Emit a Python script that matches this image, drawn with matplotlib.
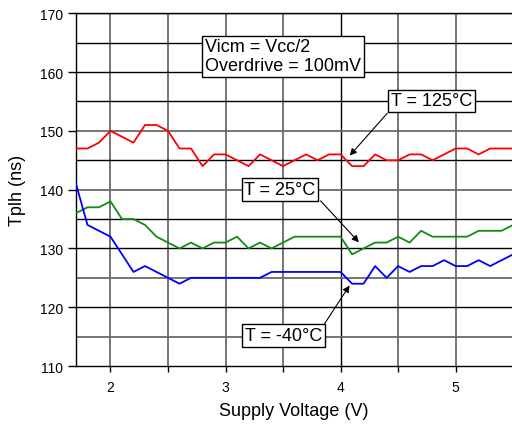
import numpy as np
import matplotlib
matplotlib.use('Agg')
import matplotlib.pyplot as plt

plt.rcParams['font.family'] = ['Liberation Sans', 'DejaVu Sans']
plt.rcParams['font.size'] = 10

# supply voltage (V)
vcc = [1.7, 1.8, 1.9, 2.0, 2.1, 2.2, 2.3, 2.4, 2.5, 2.6, 2.7, 2.8, 2.9,
       3.0, 3.1, 3.2, 3.3, 3.4, 3.5, 3.6, 3.7, 3.8, 3.9, 4.0, 4.1, 4.2,
       4.3, 4.4, 4.5, 4.6, 4.7, 4.8, 4.9, 5.0, 5.1, 5.2, 5.3, 5.4, 5.5]

# Tplh (ns)
t_125 = [147, 147, 148, 150, 149, 148, 151, 151, 150, 147, 147, 144, 146,
         146, 145, 144, 146, 145, 144, 145, 146, 145, 146, 146, 144, 144,
         146, 145, 145, 146, 146, 145, 146, 147, 147, 146, 147, 147, 147]
t_25 = [136, 137, 137, 138, 135, 135, 134, 132, 131, 130, 131, 130, 131,
        131, 132, 130, 131, 130, 131, 132, 132, 132, 132, 132, 129, 130,
        131, 131, 132, 131, 133, 132, 132, 132, 132, 133, 133, 133, 134]
t_m40 = [141, 134, 133, 132, 129, 126, 127, 126, 125, 124, 125, 125, 125,
         125, 125, 125, 125, 126, 126, 126, 126, 126, 126, 126, 124, 124,
         127, 125, 127, 126, 127, 127, 128, 127, 127, 128, 127, 128, 129]

fig = plt.figure(figsize=(5.12, 4.27), dpi=100)
ax = fig.add_axes([0.1484, 0.1405, 0.8516, 0.826])

ax.set_xlim(1.7, 5.49)
ax.set_ylim(110, 170)

# grid
for xv in np.arange(2.0, 5.01, 0.5):
    c = 'black' if xv == 4.0 else '#6a6a6a'
    ax.axvline(xv, color=c, lw=1.3 if c != 'black' else 1.0, zorder=1)
for yv in range(115, 171, 5):
    c = '#6a6a6a' if yv in (150, 140, 125, 115) else 'black'
    ax.axhline(yv, color=c, lw=1.3 if c != 'black' else 1.0, zorder=1)

ax.plot(vcc, t_125, color='#ff0000', lw=1.3, zorder=3)
ax.plot(vcc, t_25, color='#138a13', lw=1.3, zorder=3)
ax.plot(vcc, t_m40, color='#0000ff', lw=1.3, zorder=3)

ax.set_xticks([2, 3, 4, 5])
ax.set_xticks(np.arange(2.5, 5.1, 1.0), minor=True)
ax.set_yticks(range(110, 171, 10))
ax.tick_params(axis='x', which='both', direction='out', length=4, width=1, pad=6)
ax.tick_params(axis='y', direction='out', length=6, width=1, pad=3)
ax.tick_params(labelsize=10)

for s in ['right']:
    ax.spines[s].set_visible(False)
for s in ['left', 'bottom', 'top']:
    ax.spines[s].set_linewidth(1.0)

ax.set_xlabel('Supply Voltage (V)', fontsize=13, labelpad=6)
ax.set_ylabel('Tplh (ns)', fontsize=13, labelpad=10)

box = dict(boxstyle='square,pad=0.15', fc='white', ec='black', lw=1.0)
ax.text(2.82, 162.7, 'Vicm = Vcc/2\nOverdrive = 100mV', fontsize=13,
        ha='left', va='center', bbox=box, zorder=5, linespacing=1.15)
ax.text(4.79, 155.1, 'T = 125°C', fontsize=13, ha='center', va='center',
        bbox=box, zorder=5)
ax.text(3.474, 140.0, 'T = 25°C', fontsize=13, ha='center', va='center',
        bbox=box, zorder=5)
ax.text(3.504, 115.2, 'T = -40°C', fontsize=13, ha='center', va='center',
        bbox=box, zorder=5)

arrow = dict(arrowstyle='-|>', color='black', lw=0.8, mutation_scale=10,
             shrinkA=0, shrinkB=0)
ax.annotate('', xy=(4.08, 145.8), xytext=(4.406, 153.0), arrowprops=arrow, zorder=6)
ax.annotate('', xy=(4.159, 131.05), xytext=(3.826, 138.1), arrowprops=arrow, zorder=6)
ax.annotate('', xy=(4.078, 123.7), xytext=(3.861, 117.2), arrowprops=arrow, zorder=6)

fig.savefig('out.png', dpi=100)
